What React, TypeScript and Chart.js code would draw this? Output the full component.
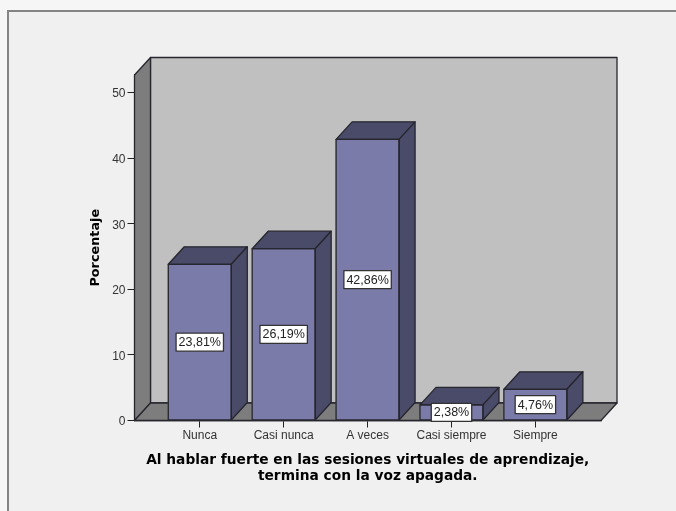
import React, { useEffect, useRef } from "react";
import { Chart, registerables } from "chart.js";

Chart.register(...registerables);

const categories = ["Nunca", "Casi nunca", "A veces", "Casi siempre", "Siempre"];
const percentages = [23.81, 26.19, 42.86, 2.38, 4.76];
const valueLabels = ["23,81%", "26,19%", "42,86%", "2,38%", "4,76%"];
const yTickValues = [0, 10, 20, 30, 40, 50];
const yTitle = "Porcentaje";
const xTitleLines = [
  "Al hablar fuerte en las sesiones virtuales de aprendizaje,",
  "termina con la voz apagada.",
];

const DX = 16;
const DY = -17.5;
const OUTLINE = "#26262e";
const FRONT = "#7b7ba9";
const DARK = "#4a4a69";
const WALL = "#c0c0c0";
const FLOOR = "#7d7d7d";

function poly(ctx: CanvasRenderingContext2D, pts: number[][], fill: string) {
  ctx.beginPath();
  pts.forEach(([x, y], i) => (i ? ctx.lineTo(x, y) : ctx.moveTo(x, y)));
  ctx.closePath();
  ctx.fillStyle = fill;
  ctx.fill();
  ctx.lineWidth = 1.3;
  ctx.strokeStyle = OUTLINE;
  ctx.lineJoin = "round";
  ctx.stroke();
}

const scene3d = {
  id: "scene3d",
  beforeDraw(chart: any) {
    const { ctx, width, height } = chart;
    ctx.save();
    ctx.fillStyle = "#f6f6f6";
    ctx.fillRect(0, 0, width, height);
    ctx.fillStyle = "#f0f0f0";
    ctx.fillRect(8, 10, width - 8, height - 10);
    ctx.strokeStyle = "#848484";
    ctx.lineWidth = 2;
    ctx.beginPath();
    ctx.moveTo(8, height);
    ctx.lineTo(8, 11);
    ctx.lineTo(width, 11);
    ctx.stroke();
    ctx.restore();
  },
  beforeDatasetsDraw(chart: any) {
    const { ctx, chartArea: a } = chart;
    const { left: l, right: r, top: t, bottom: b } = a;
    ctx.save();
    poly(ctx, [[l + DX, t + DY], [r + DX, t + DY], [r + DX, b + DY], [l + DX, b + DY]], WALL);
    poly(ctx, [[l, t], [l + DX, t + DY], [l + DX, b + DY], [l, b]], FLOOR);
    poly(ctx, [[l, b], [l + DX, b + DY], [r + DX, b + DY], [r, b]], FLOOR);
    ctx.restore();
  },
  afterDatasetsDraw(chart: any) {
    const { ctx } = chart;
    const bars = chart.getDatasetMeta(0).data;
    ctx.save();
    bars.forEach((bar: any) => {
      const { x, y, base, width } = bar.getProps(["x", "y", "base", "width"], true);
      const x0 = x - width / 2;
      const x1 = x + width / 2;
      poly(ctx, [[x0, y], [x0 + DX, y + DY], [x1 + DX, y + DY], [x1, y]], DARK);
      poly(ctx, [[x1, y], [x1 + DX, y + DY], [x1 + DX, base + DY], [x1, base]], DARK);
      ctx.lineWidth = 1.3;
      ctx.strokeStyle = OUTLINE;
      ctx.strokeRect(x0, y, width, base - y);
    });
    ctx.font = "12.5px 'Liberation Sans'";
    ctx.textAlign = "center";
    ctx.textBaseline = "middle";
    bars.forEach((bar: any, i: number) => {
      const { x, y, base } = bar.getProps(["x", "y", "base"], true);
      const cy = (y + base) / 2;
      const w = ctx.measureText(valueLabels[i]).width + 5;
      const h = 18;
      ctx.fillStyle = "#ffffff";
      ctx.fillRect(x - w / 2, cy - h / 2, w, h);
      ctx.strokeStyle = "#333333";
      ctx.lineWidth = 1.3;
      ctx.strokeRect(x - w / 2, cy - h / 2, w, h);
      ctx.fillStyle = "#222222";
      ctx.fillText(valueLabels[i], x, cy + 0.5);
    });
    ctx.restore();
  },
};

export default function App() {
  const ref = useRef<HTMLCanvasElement>(null);
  useEffect(() => {
    document.body.style.margin = "0";
    const chart = new Chart(ref.current!, {
      type: "bar",
      data: {
        datasets: [
          {
            data: percentages.map((y, x) => ({ x, y })),
            backgroundColor: FRONT,
            barThickness: 63,
          },
        ],
      },
      plugins: [scene3d],
      options: {
        responsive: false,
        animation: false,
        layout: { padding: { left: 88, top: 75, right: 75, bottom: 0 } },
        plugins: { legend: { display: false }, tooltip: { enabled: false }, title: { display: false } },
        scales: {
          x: {
            type: "linear",
            offset: false,
            min: -0.778,
            max: 4.782,
            afterBuildTicks: (s: any) => {
              s.ticks = categories.map((_, v) => ({ value: v }));
            },
            afterFit: (s: any) => {
              s.height = 90.5;
            },
            ticks: {
              autoSkip: false,
              maxRotation: 0,
              font: { family: "Liberation Sans", size: 12 },
              color: "#333333",
              padding: 1,
              callback: (v: any) => categories[v as number],
            },
            title: {
              display: true,
              text: xTitleLines,
              font: { family: "DejaVu Sans", size: 13.75, weight: "bold", lineHeight: 1.15 },
              color: "#000000",
              padding: { top: 0, bottom: 27 },
            },
            grid: { offset: false, drawOnChartArea: false, drawTicks: true, tickLength: 7, color: "#222222", lineWidth: 1 },
            border: { color: "#222222", width: 1.3 },
          },
          y: {
            min: 0,
            max: 52.67,
            afterBuildTicks: (s: any) => {
              s.ticks = yTickValues.map((value) => ({ value }));
            },
            afterFit: (s: any) => {
              s.width = 46.5;
            },
            ticks: {
              font: { family: "Liberation Sans", size: 12 },
              color: "#333333",
              padding: 2,
              labelOffset: 1.5,
            },
            title: {
              display: true,
              text: yTitle,
              font: { family: "DejaVu Sans", size: 12.8, weight: "bold" },
              color: "#000000",
              padding: 0,
            },
            grid: { drawOnChartArea: false, drawTicks: true, tickLength: 7, color: "#222222", lineWidth: 1 },
            border: { color: "#222222", width: 1.3 },
          },
        },
      },
    } as any);
    return () => chart.destroy();
  }, []);
  return <canvas ref={ref} width={676} height={511} style={{ display: "block" }} />;
}
